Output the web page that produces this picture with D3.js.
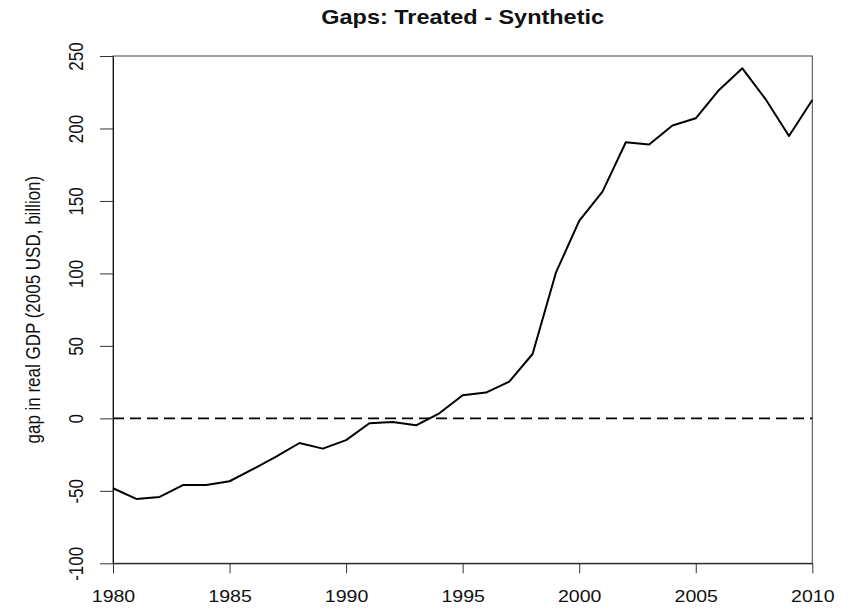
<!DOCTYPE html>
<html>
<head>
<meta charset="utf-8">
<script src="https://cdn.jsdelivr.net/npm/d3@7"></script>
<style>
  html, body { margin: 0; padding: 0; background: #fff; }
  svg { display: block; font-family: "Liberation Sans", Arial, sans-serif; }
</style>
</head>
<body>
<svg id="chart" width="850" height="608"></svg>
<script>
// Years on the horizontal axis
const years = [1980, 1981, 1982, 1983, 1984, 1985, 1986, 1987, 1988, 1989,
               1990, 1991, 1992, 1993, 1994, 1995, 1996, 1997, 1998, 1999,
               2000, 2001, 2002, 2003, 2004, 2005, 2006, 2007, 2008, 2009, 2010];

// Gap between treated unit and its synthetic control (2005 USD, billion)
const gap = [-48.2, -55.6, -54.2, -46.0, -46.0, -43.4, -35.1, -26.4, -17.0, -20.9,
             -15.0, -3.4, -2.5, -4.8, 3.5, 15.9, 17.8, 25.3, 44.4, 100.5,
             136.2, 156.4, 190.5, 189.0, 202.0, 207.0, 226.6, 241.5, 220.1, 194.8, 219.7];

const xTicks = [1980, 1985, 1990, 1995, 2000, 2005, 2010];
const yTicks = [-100, -50, 0, 50, 100, 150, 200, 250];
const xDomain = [1980, 2010];
const yDomain = [-100, 250];

const titleText = "Gaps: Treated - Synthetic";
const yLabelText = "gap in real GDP (2005 USD, billion)";

// Plot region
const plot = { left: 113, right: 812.3, top: 56, bottom: 563.3 };
const stretch = 1.15;   // slightly wide lettering
const plainNumber = d => String(d);   // ASCII hyphen for negatives

const svg = d3.select("#chart");

const x = d3.scaleLinear().domain(xDomain).range([plot.left, plot.right]);
const y = d3.scaleLinear().domain(yDomain).range([plot.bottom, plot.top]);

// Box around the plot
svg.append("rect")
  .attr("x", plot.left).attr("y", plot.top)
  .attr("width", plot.right - plot.left).attr("height", plot.bottom - plot.top)
  .attr("fill", "none").attr("stroke", "#444").attr("stroke-width", 1);

// Bottom axis
const xAxis = svg.append("g")
  .attr("transform", `translate(0,${plot.bottom})`)
  .call(d3.axisBottom(x).tickValues(xTicks).tickFormat(plainNumber).tickSize(10).tickSizeOuter(0));
xAxis.select(".domain").attr("stroke", "#111");
xAxis.selectAll(".tick line").attr("stroke", "#333");
xAxis.selectAll(".tick text")
  .attr("font-size", 17).attr("fill", "#111")
  .attr("y", 0).attr("dy", 0)
  .attr("transform", `translate(0,38.2) scale(${stretch},1)`);

// Left axis with labels running parallel to it
const yAxis = svg.append("g")
  .attr("transform", `translate(${plot.left},0)`)
  .call(d3.axisLeft(y).tickValues(yTicks).tickFormat(plainNumber).tickSize(13).tickSizeOuter(0));
yAxis.select(".domain").attr("stroke", "#111");
yAxis.selectAll(".tick line").attr("stroke", "#333");
yAxis.selectAll(".tick text")
  .attr("font-size", 17).attr("fill", "#111")
  .attr("x", 0).attr("y", 0).attr("dy", 0)
  .attr("text-anchor", "middle")
  .attr("transform", `translate(-30,0) scale(${stretch},1) rotate(-90)`);

// Zero reference line
svg.append("line")
  .attr("x1", x(xDomain[0])).attr("x2", x(xDomain[1]))
  .attr("y1", y(0)).attr("y2", y(0))
  .attr("stroke", "#000").attr("stroke-width", 1.8)
  .attr("stroke-dasharray", "11,6");

// Gap series
const line = d3.line()
  .x((d, i) => x(years[i]))
  .y(d => y(d));
svg.append("path")
  .datum(gap)
  .attr("d", line)
  .attr("fill", "none")
  .attr("stroke", "#000")
  .attr("stroke-width", 2)
  .attr("stroke-linejoin", "round");

// Title
svg.append("text")
  .attr("transform", `translate(${(plot.left + plot.right) / 2},24) scale(${stretch},1)`)
  .attr("text-anchor", "middle")
  .attr("font-size", 20.4).attr("font-weight", "bold").attr("fill", "#111")
  .text(titleText);

// Vertical axis title
svg.append("text")
  .attr("transform", `translate(40,${(plot.top + plot.bottom) / 2}) scale(${stretch},1) rotate(-90)`)
  .attr("text-anchor", "middle")
  .attr("font-size", 17).attr("fill", "#111")
  .text(yLabelText);
</script>
</body>
</html>
